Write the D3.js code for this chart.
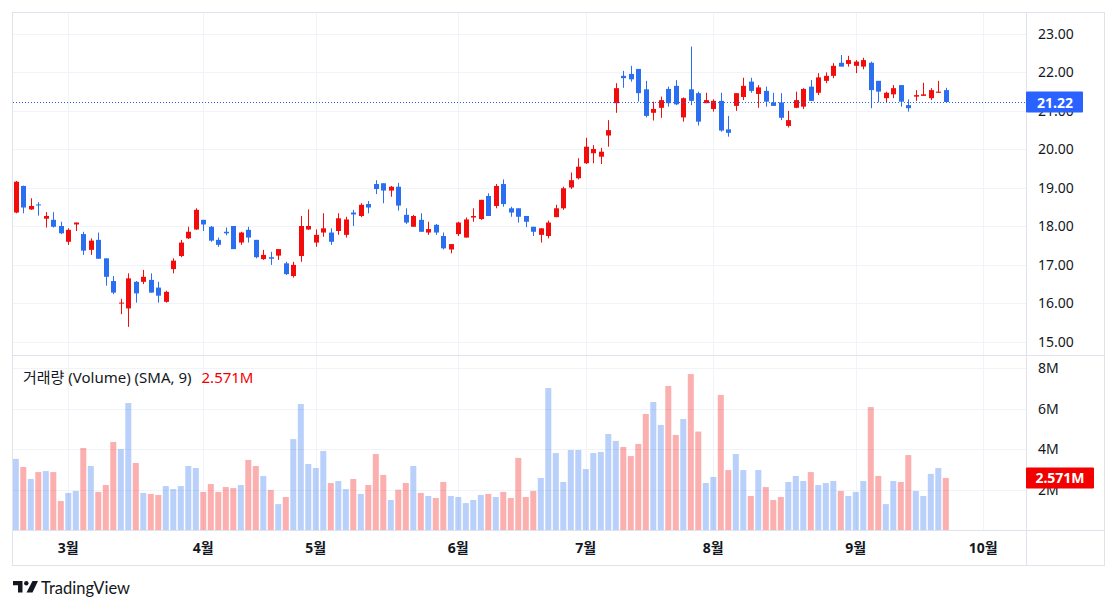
<!DOCTYPE html>
<meta charset="utf-8">
<style>
body { margin:0; background:#fff; }
text { fill:#131722; }
</style>
<script src="https://d3js.org/d3.v7.min.js"></script>
<body>
<script>

// candle data, one entry per bar
var opens = [18.35,19.04,18.43,18.56,18.19,18.16,18.00,17.59,18.04,17.79,17.38,17.64,17.16,16.57,15.99,15.86,16.55,16.55,16.60,16.40,
16.03,16.88,17.22,17.68,17.91,18.16,17.98,17.64,17.85,18.00,17.57,17.90,17.64,17.14,17.19,17.23,17.03,16.70,17.22,17.91,
17.57,17.83,17.83,17.87,17.77,18.35,18.26,18.57,19.09,19.11,18.92,19.02,18.29,17.98,18.16,17.83,18.03,17.74,17.39,17.79,
17.70,18.22,18.18,18.78,18.52,19.09,18.46,18.46,18.26,17.98,17.77,17.74,18.23,18.46,19.00,19.24,19.63,19.89,19.80,20.35,
21.19,21.90,21.95,22.08,21.55,20.94,21.07,21.56,21.64,20.82,21.55,21.45,21.19,21.04,21.25,20.51,21.12,21.35,21.75,21.43,
21.51,21.21,21.21,20.60,21.07,21.10,21.62,21.46,21.77,21.90,22.24,22.21,22.16,22.14,22.24,21.77,21.32,21.42,21.66,21.14,
21.36,21.38,21.32,21.46,21.53]
var highs = [19.17,19.05,18.72,18.62,18.36,18.36,18.11,17.94,18.09,17.85,17.68,17.83,17.16,16.70,16.11,16.77,16.57,16.86,16.77,16.55,
16.32,17.16,17.64,17.98,18.46,18.16,18.00,17.70,17.96,18.00,17.85,17.98,17.64,17.38,17.33,17.40,17.07,17.07,18.26,18.43,
17.91,18.33,17.94,18.33,18.24,18.42,18.59,18.65,19.19,19.11,19.04,19.12,18.46,18.29,18.33,18.11,18.05,17.83,17.53,18.11,
18.22,18.46,18.68,18.85,19.09,19.21,18.50,18.46,18.26,17.98,17.94,18.14,18.55,19.02,19.39,19.76,20.29,20.10,20.03,20.75,
21.71,22.03,22.16,22.08,21.77,21.23,21.36,21.62,21.79,21.34,22.66,21.49,21.46,21.29,21.46,20.86,21.45,21.85,21.85,21.66,
21.62,21.46,21.45,20.99,21.49,21.58,21.79,21.97,21.99,22.23,22.44,22.42,22.31,22.37,22.27,21.77,21.49,21.66,21.66,21.29,
21.53,21.72,21.58,21.77,21.59]
var lows = [18.33,18.33,18.42,18.27,17.96,17.96,17.79,17.51,17.87,17.25,17.25,17.15,16.45,16.23,15.71,15.38,16.01,16.49,16.27,16.01,
16.01,16.77,17.19,17.66,17.90,17.87,17.59,17.46,17.76,17.40,17.51,17.57,17.16,17.12,16.99,17.12,16.73,16.66,17.07,17.90,
17.46,17.72,17.51,17.77,17.70,18.00,18.23,18.33,18.83,18.59,18.76,18.40,18.05,17.98,17.85,17.77,17.77,17.39,17.29,17.74,
17.70,18.11,18.16,18.26,18.46,18.50,18.24,18.09,17.97,17.74,17.57,17.68,18.23,18.42,18.96,19.21,19.61,19.63,19.61,20.06,
20.94,21.59,21.75,21.23,20.82,20.74,20.81,21.10,21.14,20.71,21.14,20.61,21.19,20.97,20.45,20.32,20.99,21.27,21.46,21.07,
21.10,21.12,20.75,20.56,21.06,21.04,21.25,21.40,21.71,21.84,22.14,22.14,21.97,22.07,21.06,21.21,21.21,21.32,21.10,20.97,
21.25,21.38,21.27,21.46,21.21]
var closes = [19.15,18.48,18.52,18.54,18.26,17.98,17.81,17.90,18.09,17.36,17.62,17.15,16.68,16.27,16.01,16.64,16.25,16.68,16.27,16.19,
16.29,17.10,17.57,17.85,18.42,18.04,17.62,17.51,17.81,17.40,17.83,17.70,17.19,17.25,17.15,17.40,16.75,16.99,18.00,18.00,
17.77,17.94,17.59,18.20,18.17,18.30,18.55,18.48,18.96,18.92,19.02,18.53,18.09,18.26,17.85,17.92,17.83,17.42,17.53,18.09,
18.17,18.26,18.68,18.26,19.04,18.57,18.35,18.24,18.11,17.85,17.94,18.09,18.46,18.98,19.19,19.54,20.06,20.00,19.93,20.49,
21.58,21.84,21.81,21.45,20.86,21.04,21.27,21.19,21.16,21.32,21.25,20.71,21.27,21.25,20.48,20.42,21.45,21.64,21.51,21.60,
21.23,21.12,20.81,20.75,21.27,21.56,21.25,21.86,21.90,22.16,22.14,22.31,22.27,22.31,21.53,21.49,21.46,21.58,21.23,21.06,
21.40,21.42,21.53,21.49,21.22]
// volume in millions
var volumes = [3.51,3.11,2.52,2.86,2.91,2.86,1.43,1.83,1.93,4.05,3.16,1.88,2.22,4.35,4.00,6.27,3.31,1.83,1.78,1.73,
2.17,2.02,2.17,3.16,3.06,1.88,2.27,1.88,2.12,2.07,2.22,3.46,3.16,2.67,1.98,1.28,1.63,4.49,6.22,3.26,
3.06,3.90,2.32,2.42,2.02,2.52,1.78,2.22,3.75,2.72,1.48,1.99,2.32,3.16,1.83,1.68,1.58,2.37,1.68,1.63,
1.33,1.48,1.73,1.78,1.63,1.88,1.58,3.56,1.63,1.93,2.57,7.01,3.80,2.37,3.95,3.95,3.01,3.80,3.85,4.74,
4.40,4.10,3.65,4.25,5.73,6.32,5.19,7.11,4.69,5.48,7.70,4.86,2.32,2.62,6.67,2.96,3.75,2.96,1.68,2.96,
2.12,1.48,1.63,2.37,2.67,2.42,2.86,2.22,2.32,2.42,1.93,1.68,1.88,2.42,6.07,2.67,1.28,2.42,2.37,3.70,
1.93,1.68,2.77,3.06,2.571]

var monthIdx = [7,25,40,59,76,93,112,129]
var monthLabels = ['3월','4월','5월','6월','7월','8월','9월','10월']
var priceTicks = [15,16,17,18,19,20,21,22,23]
var volTicks = [2,4,6,8]
var lastPrice = '21.22'
var lastVol = '2.571M'

var width = 1118, height = 609
var left = 13, right = 1104, topY = 13, bottom = 565
var axisX = 1026, paneSplit = 355, timeTop = 530

var up = '#f20c0c', down = '#2a6ff0'
var grid = '#f0f3fa', border = '#e0e3eb'
var font = '"Noto Sans", "Noto Sans CJK KR", sans-serif'

var data = opens.map((o,i)=>({i:i,o:o,h:highs[i],l:lows[i],c:closes[i],v:volumes[i]}))

var x = d3.scaleLinear().domain([0,124]).range([15.8,945.8])
var y = d3.scaleLinear().domain([15,23]).range([341.5,33.5])
var yv = d3.scaleLinear().domain([0,8]).range([timeTop,368])

var svg = d3.select('body').append('svg').attr('width',width).attr('height',height)
  .style('font-family',font)

var defs = svg.append('defs')
defs.append('clipPath').attr('id','pc').append('rect')
  .attr('x',left).attr('y',topY).attr('width',axisX-left).attr('height',paneSplit-topY)
defs.append('clipPath').attr('id','vc').append('rect')
  .attr('x',left).attr('y',paneSplit).attr('width',axisX-left).attr('height',timeTop-paneSplit)

// grid
var g = svg.append('g')
g.selectAll('.hp').data(priceTicks).enter().append('line')
  .attr('x1',left).attr('x2',axisX).attr('y1',d=>Math.round(y(d))+0.5).attr('y2',d=>Math.round(y(d))+0.5)
  .attr('stroke',grid)
g.selectAll('.hv').data(volTicks).enter().append('line')
  .attr('x1',left).attr('x2',axisX).attr('y1',d=>Math.round(yv(d))+0.5).attr('y2',d=>Math.round(yv(d))+0.5)
  .attr('stroke',grid)
g.selectAll('.vm').data(monthIdx).enter().append('line')
  .attr('x1',d=>Math.round(x(d))+0.5).attr('x2',d=>Math.round(x(d))+0.5)
  .attr('y1',topY).attr('y2',timeTop).attr('stroke',grid)

// volume bars
var vol = svg.append('g').attr('clip-path','url(#vc)')
vol.selectAll('rect').data(data).enter().append('rect')
  .attr('x',d=>x(d.i)-3).attr('width',6)
  .attr('y',d=>yv(d.v)).attr('height',d=>yv(0)-yv(d.v))
  .attr('fill',d=> d.c>=d.o ? down : up)
  .attr('fill-opacity',0.33)

// candles
var cg = svg.append('g').attr('clip-path','url(#pc)')
var candle = cg.selectAll('g').data(data).enter().append('g')
candle.append('line')
  .attr('x1',d=>Math.round(x(d.i))+0.5).attr('x2',d=>Math.round(x(d.i))+0.5)
  .attr('y1',d=>y(d.h)).attr('y2',d=>y(d.l))
  .attr('stroke',d=> d.c>=d.o ? up : down)
candle.append('rect')
  .attr('x',d=>Math.round(x(d.i))-2).attr('width',5)
  .attr('y',d=>y(Math.max(d.o,d.c)))
  .attr('height',d=>Math.max(1,Math.abs(y(d.o)-y(d.c))))
  .attr('fill',d=> d.c>=d.o ? up : down)

// last price line
var ly = Math.round(y(+lastPrice))+0.5
svg.append('line').attr('x1',left).attr('x2',axisX).attr('y1',ly).attr('y2',ly)
  .attr('stroke','#2962ff').attr('stroke-dasharray','1 2')

// frame
svg.append('rect').attr('x',left-0.5).attr('y',topY-0.5).attr('width',right-left+1).attr('height',bottom-topY+1)
  .attr('fill','none').attr('stroke',border)
svg.append('line').attr('x1',axisX+0.5).attr('x2',axisX+0.5).attr('y1',topY).attr('y2',bottom).attr('stroke',border)
svg.append('line').attr('x1',left).attr('x2',right).attr('y1',paneSplit+0.5).attr('y2',paneSplit+0.5).attr('stroke',border)
svg.append('line').attr('x1',left).attr('x2',right).attr('y1',timeTop+0.5).attr('y2',timeTop+0.5).attr('stroke',border)

// price axis
svg.append('g').selectAll('text').data(priceTicks).enter().append('text')
  .attr('x',1038).attr('y',d=>y(d)+5).style('font-size','14px')
  .text(d=>d3.format('.2f')(d))
svg.append('g').selectAll('text').data(volTicks).enter().append('text')
  .attr('x',1038).attr('y',d=>yv(d)+5).style('font-size','14px')
  .text(d=>d+'M')

// last price label
svg.append('rect').attr('x',axisX).attr('y',y(+lastPrice)-10.5).attr('width',57).attr('height',21)
  .attr('fill','#2962ff').attr('rx',1)
svg.append('text').attr('x',axisX+29).attr('y',y(+lastPrice)+5.5).attr('text-anchor','middle')
  .style('font-size','14px').style('font-weight','bold').style('fill','#fff').text(lastPrice)

// last volume label
var lv = yv(volumes[volumes.length-1])
svg.append('rect').attr('x',axisX).attr('y',lv-10.5).attr('width',68).attr('height',21)
  .attr('fill','#f20000').attr('rx',1)
svg.append('text').attr('x',axisX+34).attr('y',lv+5.5).attr('text-anchor','middle')
  .style('font-size','14px').style('font-weight','bold').style('fill','#fff').text(lastVol)

// legend
var leg = svg.append('text').attr('x',23).attr('y',383).style('font-size','15px')
leg.append('tspan').text('거래량 (Volume) (SMA, 9)')
leg.append('tspan').attr('dx',10).style('fill','#f20000').text(lastVol)

// time axis
svg.append('g').selectAll('text').data(monthIdx).enter().append('text')
  .attr('x',d=>x(d)).attr('y',553).attr('text-anchor','middle')
  .style('font-size','14px').style('font-weight','bold')
  .text((d,i)=>monthLabels[i])

// logo
var logo = svg.append('g').attr('transform','translate(13,581)')
logo.append('path').attr('d','M0,0 H9.5 V11.5 H5 V4.3 H0 Z').attr('fill','#131722')
logo.append('circle').attr('cx',13.3).attr('cy',2.2).attr('r',2.2).attr('fill','#131722')
logo.append('path').attr('d','M19.5,0 H25 L19.5,11.5 H13.5 Z').attr('fill','#131722')
svg.append('text').attr('x',41).attr('y',593.5).style('font-family','Lato, "Noto Sans", sans-serif')
  .style('font-size','16.5px').text('TradingView')

</script>
</body>
